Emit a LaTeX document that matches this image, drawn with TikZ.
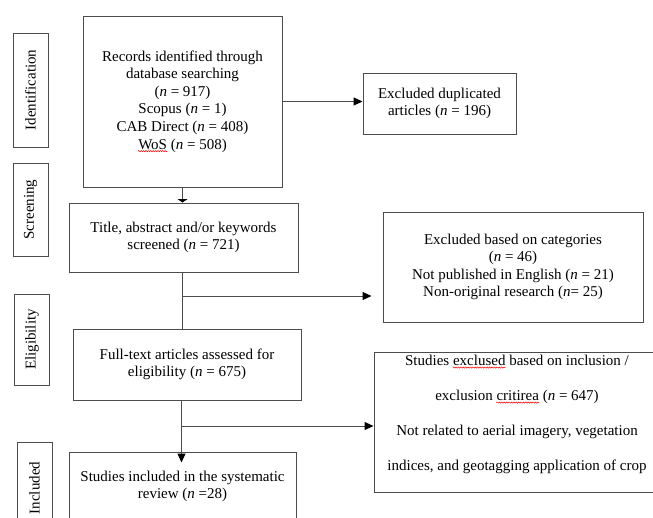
\documentclass[tikz,border=0pt]{standalone}
\usepackage{fontspec}
\setmainfont{Liberation Serif}
\usetikzlibrary{arrows.meta,decorations.pathmorphing}
\newcommand{\nn}{\textit{n}}
\newcommand{\typo}[1]{\tikz[baseline=(w.base)]{\node[draw=none,inner sep=0pt,rotate=0,
  minimum width=0pt,minimum height=0pt,align=left] (w) {#1};
  \draw[overlay,red,line width=0.5pt,decorate,decoration={snake,amplitude=0.6pt,segment length=2.4pt}]
  ([yshift=-1.5pt]w.south west) -- ([yshift=-1.5pt]w.south east);}}
\begin{document}
\begin{tikzpicture}[x=1pt,y=-1pt,
  box/.style={draw=black!70,line width=1pt,inner sep=0pt,align=center,
    font=\fontsize{15}{17.6}\selectfont},
  stage/.style={box,rotate=90,minimum height=35},
  link/.style={draw=black!70,line width=1pt},
  tip/.style={-{Triangle[length=9pt,width=8pt,black]}}]
\path[use as bounding box,clip] (0,0) rectangle (653,517);
% stage labels
\node[stage,minimum width=114] (ident) at (30.5,90) {Identification};
\node[stage,minimum width=93] (screen) at (30.5,209.5) {Screening};
\node[stage,minimum width=91] (elig) at (32,339.5) {Eligibility};
\node[stage,minimum width=92] (incl) at (34.5,488) {Included};
% main column
\node[box,minimum width=199,minimum height=171] (records) at (182.5,101.5)
  {Records identified through\\database searching\\(\nn{} = 917)\\Scopus (\nn{} = 1)\\CAB Direct (\nn{} = 408)\\\typo{WoS} (\nn{} = 508)};
\node[box,minimum width=229,minimum height=69] (title) at (183.5,237.5)
  {Title, abstract and/or keywords\\screened (\nn{} = 721)};
\node[box,minimum width=228,minimum height=71] (fulltext) at (187,364.5)
  {Full-text articles assessed for\\eligibility (\nn{} = 675)};
\node[box,minimum width=227,minimum height=69] (studies) at (182.5,486.5)
  {Studies included in the systematic\\review (\nn{} =28)};
% exclusions
\node[box,minimum width=153,minimum height=61] (dup) at (439.5,103.5)
  {Excluded duplicated\\articles (\nn{} = 196)};
\node[box,minimum width=260,minimum height=110] (cats) at (513,267)
  {Excluded based on categories\\(\nn{} = 46)\\Not published in English (\nn{} = 21)\\Non-original research (\nn{}= 25)};
\node[box,minimum width=286,minimum height=140,font=\fontsize{15}{35}\selectfont] (excl) at (517,422)
  {Studies \typo{exclused} based on inclusion /\\exclusion \typo{critirea} (\nn{} = 647)\\Not related to aerial imagery, vegetation\\indices, and geotagging application of crop\rule[-18pt]{0pt}{1pt}};
% connectors
\coordinate (split1) at (182.5,296);
\coordinate (split2) at (181.5,426);
\draw[link,-{Triangle[length=3.5pt,width=10pt,black]}] (records.south) -- (records.south |- title.north);
\draw[link,tip] (records.east) -- (records.east -| dup.west);
\draw[link] (title.south -| split1) -- (fulltext.north -| split1);
\draw[link,tip] (split1) -- ([xshift=-11pt]cats.west |- split1);
\draw[link,tip,shorten >=-11pt] (fulltext.south -| split2) -- (studies.north -| split2);
\draw[link,tip] (split2) -- (split2 -| excl.west);
\end{tikzpicture}
\end{document}
